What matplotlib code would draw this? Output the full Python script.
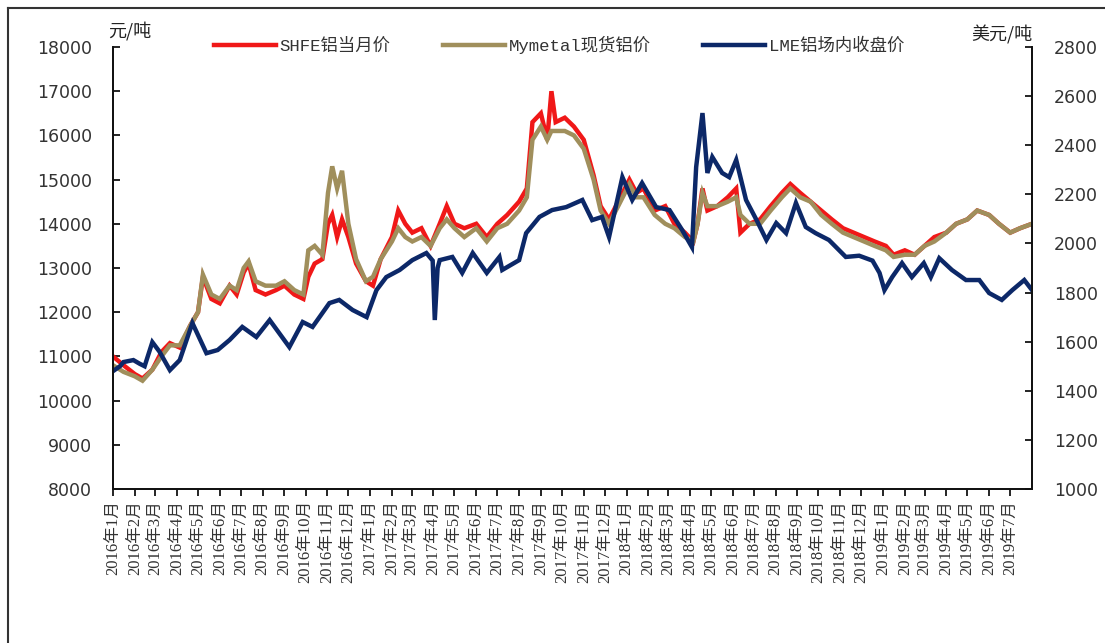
import matplotlib
matplotlib.use("Agg")
import matplotlib.pyplot as plt
import matplotlib.dates as mdates
from matplotlib.lines import Line2D
import numpy as np
import pandas as pd

# ---------------- data ----------------
cn_dates = ["2016-01-01","2016-01-16","2016-02-01","2016-02-12","2016-02-26","2016-03-10","2016-03-22",
            "2016-04-05","2016-04-20","2016-05-01","2016-05-08","2016-05-20","2016-06-01","2016-06-15",
            "2016-06-25","2016-07-05","2016-07-12","2016-07-22","2016-08-05","2016-08-20","2016-09-01",
            "2016-09-15","2016-09-28","2016-10-05","2016-10-14","2016-10-25","2016-11-02","2016-11-08",
            "2016-11-15","2016-11-22","2016-12-01","2016-12-12","2016-12-26","2017-01-05","2017-01-16",
            "2017-02-01","2017-02-10","2017-02-20","2017-03-02","2017-03-15","2017-03-28","2017-04-10",
            "2017-04-20","2017-05-01","2017-05-15","2017-06-01","2017-06-16","2017-07-01","2017-07-15",
            "2017-08-01","2017-08-12","2017-08-20","2017-09-01","2017-09-10","2017-09-16","2017-09-22",
            "2017-10-05","2017-10-18","2017-11-01","2017-11-15","2017-11-25","2017-12-07","2017-12-20",
            "2018-01-05","2018-01-15","2018-01-25","2018-02-10","2018-02-25","2018-03-10","2018-03-25",
            "2018-04-06","2018-04-12","2018-04-19","2018-04-26","2018-05-10","2018-05-25","2018-06-06",
            "2018-06-12","2018-06-25","2018-07-10","2018-07-25","2018-08-10","2018-08-22","2018-09-05",
            "2018-09-20","2018-10-05","2018-10-20","2018-11-05","2018-11-20","2018-12-05","2018-12-20",
            "2019-01-05","2019-01-16","2019-02-01","2019-02-15","2019-03-01","2019-03-15","2019-04-01",
            "2019-04-15","2019-05-01","2019-05-15","2019-06-01","2019-06-15","2019-07-01","2019-07-15",
            "2019-08-01"]
shfe_values = [11000,10800,10600,10500,10700,11100,11300,
               11200,11700,12000,12800,12300,12200,12600,
               12400,12900,13100,12500,12400,12500,12600,
               12400,12300,12800,13100,13200,14000,14200,
               13700,14100,13700,13100,12700,12600,13200,
               13700,14300,14000,13800,13900,13500,14000,
               14400,14000,13900,14000,13700,14000,14200,
               14500,14800,16300,16500,15900,17000,16300,
               16400,16200,15900,15100,14400,14100,14500,
               15000,14700,14800,14300,14400,14000,13800,
               13600,14000,14800,14300,14400,14600,14800,
               13800,14000,14100,14400,14700,14900,14700,
               14500,14300,14100,13900,13800,13700,13600,
               13500,13300,13400,13300,13500,13700,13800,
               14000,14100,14300,14200,14000,13800,13900,
               14000]
mymetal_values = [10800,10650,10550,10450,10700,11000,11250,
                  11250,11700,12000,12850,12400,12300,12600,
                  12500,13000,13150,12700,12600,12600,12700,
                  12500,12400,13400,13500,13300,14700,15300,
                  14800,15200,14000,13200,12700,12800,13200,
                  13600,13900,13700,13600,13700,13500,13900,
                  14100,13900,13700,13900,13600,13900,14000,
                  14300,14600,15900,16200,15900,16100,16100,
                  16100,16000,15700,15000,14300,14000,14400,
                  14900,14600,14600,14200,14000,13900,13700,
                  13600,14000,14700,14400,14400,14500,14600,
                  14200,14000,14000,14300,14600,14800,14600,
                  14500,14200,14000,13800,13700,13600,13500,
                  13400,13250,13300,13300,13500,13600,13800,
                  14000,14100,14300,14200,14000,13800,13900,
                  14000]

lme_dates = ["2016-01-01","2016-01-11","2016-01-16","2016-01-30","2016-02-08","2016-02-15","2016-02-26",
             "2016-03-07","2016-03-22","2016-04-05","2016-04-23","2016-05-13","2016-05-29","2016-06-15",
             "2016-07-03","2016-07-23","2016-08-11","2016-09-08","2016-09-27","2016-10-11","2016-11-04",
             "2016-11-18","2016-12-07","2016-12-27","2017-01-10","2017-01-24","2017-02-12","2017-03-02",
             "2017-03-22","2017-03-31","2017-04-03","2017-04-07","2017-04-10","2017-04-28","2017-05-12",
             "2017-05-27","2017-06-16","2017-07-04","2017-07-08","2017-08-01","2017-08-11","2017-08-30",
             "2017-09-17","2017-10-07","2017-10-30","2017-11-13","2017-11-27","2017-12-07","2017-12-26",
             "2018-01-09","2018-01-23","2018-02-12","2018-03-03","2018-03-21","2018-04-04","2018-04-10",
             "2018-04-19","2018-04-26","2018-05-03","2018-05-17","2018-05-27","2018-06-06","2018-06-20",
             "2018-07-05","2018-07-19","2018-08-02","2018-08-16","2018-08-30","2018-09-13","2018-09-27",
             "2018-10-16","2018-11-09","2018-11-28","2018-12-17","2018-12-27","2019-01-03","2019-01-14",
             "2019-01-28","2019-02-11","2019-02-28","2019-03-10","2019-03-22","2019-04-09","2019-04-29",
             "2019-05-18","2019-06-01","2019-06-19","2019-07-04","2019-07-21","2019-08-01"]
lme_values = [1480,1500,1517,1525,1510,1500,1598,
              1560,1484,1525,1676,1553,1566,1607,
              1660,1619,1688,1578,1680,1660,1757,
              1770,1729,1700,1810,1863,1892,1932,
              1961,1930,1688,1900,1932,1945,1880,
              1961,1880,1945,1892,1932,2042,2108,
              2136,2148,2177,2095,2108,2026,2270,
              2177,2246,2148,2136,2055,1985,2311,
              2531,2287,2352,2287,2270,2340,2177,
              2095,2014,2083,2042,2165,2067,2042,
              2014,1945,1950,1930,1880,1810,1863,
              1920,1863,1920,1863,1940,1892,1851,
              1851,1798,1770,1810,1851,1810]

series_labels = ["SHFE铝当月价", "Mymetal现货铝价", "LME铝场内收盘价"]
left_ticks = [8000, 9000, 10000, 11000, 12000, 13000, 14000, 15000, 16000, 17000, 18000]
right_ticks = [1000, 1200, 1400, 1600, 1800, 2000, 2200, 2400, 2600, 2800]
left_unit = "元/吨"
right_unit = "美元/吨"
tick_months = pd.date_range("2016-01-01", "2019-07-01", freq="MS")
tick_labels = [f"{d.year}年{d.month}月" for d in tick_months]

# ---------------- plot ----------------
W, H = 1105, 643
fig = plt.figure(figsize=(W / 100, H / 100), dpi=100)
ax = fig.add_axes([113 / W, 1 - 489 / H, (1032 - 113) / W, (489 - 47) / H])
ax2 = ax.twinx()

c_red = "#f01818"
c_khaki = "#a08f5c"
c_navy = "#0c2868"
lw = 3.2

cn_d = pd.to_datetime(cn_dates)
l1, = ax.plot(cn_d, shfe_values, color=c_red, lw=lw, solid_joinstyle="miter")
l2, = ax.plot(cn_d, mymetal_values, color=c_khaki, lw=lw, solid_joinstyle="miter")
l3, = ax2.plot(pd.to_datetime(lme_dates), lme_values, color=c_navy, lw=lw, solid_joinstyle="miter")

ax.set_xlim(pd.Timestamp("2016-01-01"), pd.Timestamp("2019-08-01"))
ax.set_ylim(8000, 18000)
ax2.set_ylim(1000, 2800)
ax.set_yticks(left_ticks)
ax2.set_yticks(right_ticks)
ax.set_xticks(tick_months)
ax.set_xticklabels(tick_labels, rotation=90, ha="center", va="top",
                   family=["Liberation Serif", "Noto Sans CJK SC"], fontsize=12)
ax.xaxis.set_minor_locator(matplotlib.ticker.NullLocator())

for a in (ax, ax2):
    a.spines["top"].set_visible(False)
    for s in a.spines.values():
        s.set_linewidth(1.3)
        s.set_color("#111111")
ax.tick_params(axis="y", direction="in", length=5, width=1.2, pad=15, labelsize=12.5, labelcolor="#333333")
ax2.tick_params(axis="y", direction="in", length=5, width=1.2, pad=16, labelsize=12.5, labelcolor="#333333")
ax.tick_params(axis="x", direction="out", length=5, width=1.2, pad=3, labelcolor="#333333")
for t in ax.get_yticklabels() + ax2.get_yticklabels():
    t.set_family("DejaVu Sans")

cjk = ["Noto Sans CJK SC", "DejaVu Sans"]
fig.text(108 / W, 1 - 31 / H, left_unit, family=cjk, fontsize=13, ha="left", va="center", color="#222222")
fig.text(1002 / W, 1 - 35 / H, right_unit, family=cjk, fontsize=13, ha="center", va="center", color="#222222")

leg = fig.legend([l1, l2, l3], series_labels, loc="center", ncol=3,
                 bbox_to_anchor=(559 / W, 1 - 45 / H), frameon=False,
                 prop={"family": ["Liberation Mono", "Noto Sans CJK SC"], "size": 12.5},
                 handlelength=3.6, handletextpad=0.2, columnspacing=3.0, borderpad=0)
for t in leg.get_texts():
    t.set_color("#333333")

# outer frame of the picture
fig.add_artist(Line2D([8 / W, 8 / W], [0, 1 - 8 / H], transform=fig.transFigure, color="#333333", lw=1.5))
fig.add_artist(Line2D([8 / W, 1], [1 - 8 / H, 1 - 8 / H], transform=fig.transFigure, color="#333333", lw=1.5))

fig.savefig("out.png", dpi=100, facecolor="white")
